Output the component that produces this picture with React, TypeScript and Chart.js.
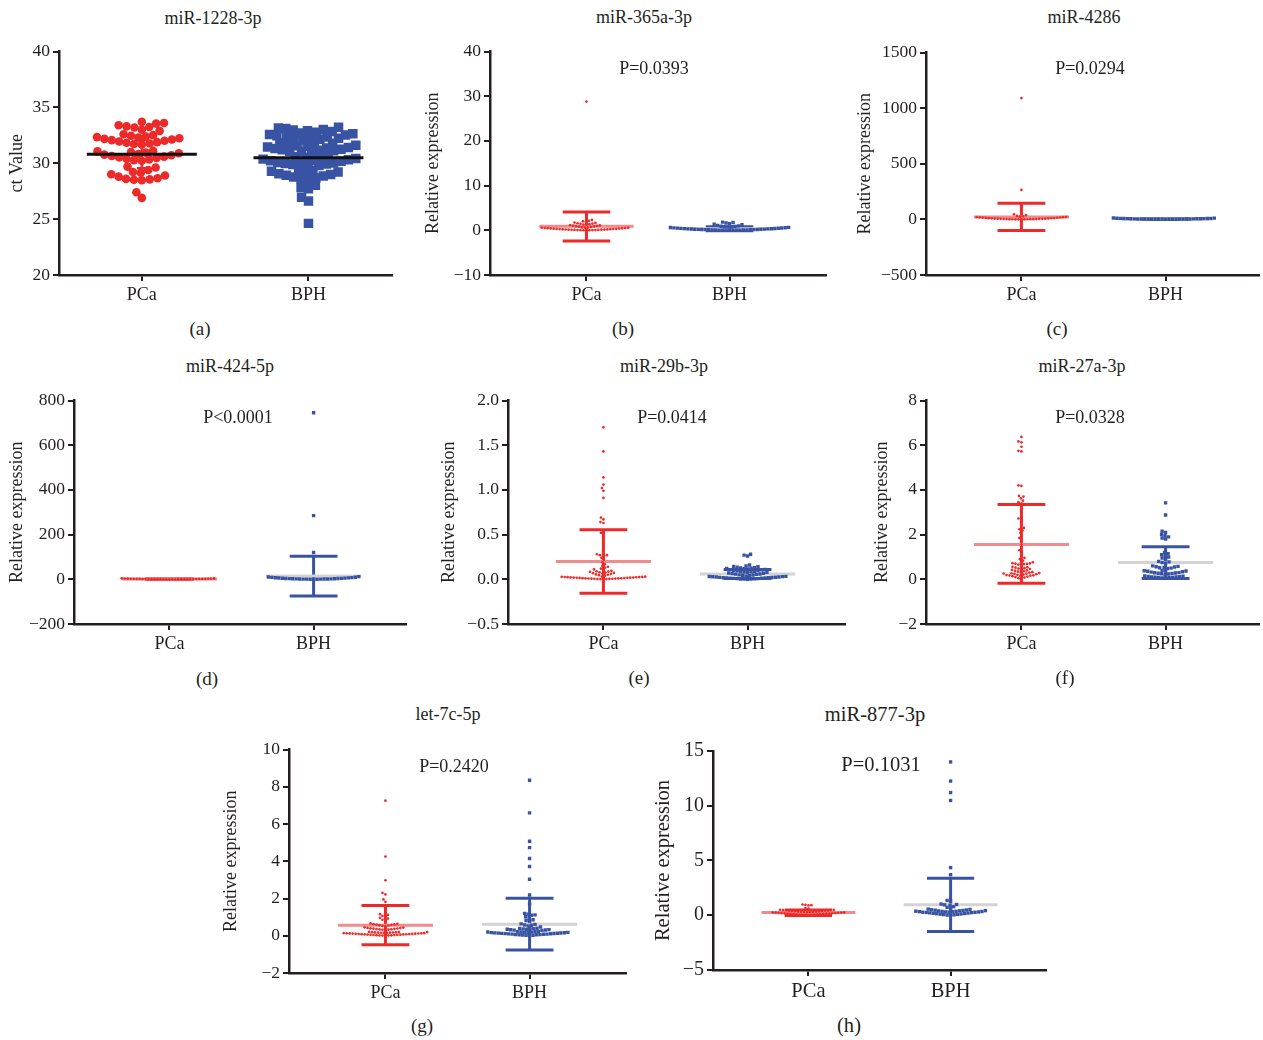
import React, { useEffect, useRef } from "react";
import { Chart, registerables } from "chart.js";

Chart.register(...registerables);

// ---------------- DATA ----------------
const groups = ["PCa", "BPH"];
const titles = ["miR-1228-3p", "miR-365a-3p", "miR-4286", "miR-424-5p", "miR-29b-3p", "miR-27a-3p", "let-7c-5p", "miR-877-3p"];
const yTitles = ["ct Value", "Relative expression", "Relative expression", "Relative expression", "Relative expression", "Relative expression", "Relative expression", "Relative expression"];
const letters = ["(a)", "(b)", "(c)", "(d)", "(e)", "(f)", "(g)", "(h)"];
const pValues = ["", "P=0.0393", "P=0.0294", "P<0.0001", "P=0.0414", "P=0.0328", "P=0.2420", "P=0.1031"];

const yMin = [20, -10, -500, -200, -0.5, -2, -2, -5];
const yMax = [40, 40, 1500, 800, 2.0, 8, 10, 15];
const yStep = [5, 10, 500, 200, 0.5, 2, 2, 5];
const yDecimals = [0, 0, 0, 0, 1, 0, 0, 0];

const a_PCa = [33.7, 33.6, 33.55, 33.4, 33.3, 33.25, 33.2, 33.0, 32.9, 32.6,
  32.52, 32.46, 32.4, 32.34, 32.29, 32.24, 32.18, 32.12, 32.07, 32.01, 31.95, 31.89, 31.83, 31.77, 31.72, 31.68,
  31.12, 31.06, 31.0, 30.95, 30.89, 30.83, 30.77, 30.71, 30.65, 30.59, 30.53, 30.47, 30.41, 30.35, 30.28, 30.22,
  29.7, 29.62, 29.4, 29.22, 29.15, 29.02, 28.9, 28.8, 28.66, 28.6, 28.56, 28.52, 28.48,
  27.4, 26.9];
const a_BPH = [33.22, 33.15, 33.1, 33.03, 32.97, 32.9, 32.84, 32.77, 32.7, 32.64, 32.58, 32.52, 32.46, 32.4, 32.34, 32.29, 32.24, 32.19, 32.14, 32.1,
  31.84, 31.79, 31.73, 31.68, 31.62, 31.57, 31.51, 31.46, 31.41, 31.36, 31.31, 31.26, 31.21, 31.16, 31.11, 31.07, 31.03, 30.99,
  30.64, 30.58, 30.53, 30.47, 30.42, 30.37, 30.32, 30.27, 30.22, 30.17, 30.12, 30.07, 30.02, 29.98, 29.93, 29.88, 29.84, 29.79,
  29.43, 29.36, 29.29, 29.22, 29.15, 29.07, 29.0, 28.93, 28.85, 28.77, 28.69, 28.61, 28.53,
  28.02, 27.82, 27.72, 26.95, 26.62, 24.62];

const b_PCa = [28.8, 2.32, 2.12, 2.0, 1.88, 1.72, 1.64, 1.58, 1.5, 1.46, 1.38, 1.3, 1.22, 1.16, 1.1, 1.04, 0.98, 0.92, 0.86, 0.8, 0.74,
  0.66, 0.63, 0.61, 0.57, 0.55, 0.52, 0.49, 0.47, 0.44, 0.41, 0.39, 0.36, 0.34, 0.31, 0.29, 0.27, 0.25, 0.22, 0.2, 0.18, 0.16, 0.14, 0.13, 0.11, 0.09, 0.08, 0.06, 0.05, 0.04, 0.03, 0.02, 0.02, 0.01];
const b_BPH = [1.82, 1.74, 1.62, 1.5, 1.35, 1.28, 1.1, 0.98, 0.9, 0.84, 0.78, 0.74, 0.7, 0.66, 0.62, 0.58, 0.55, 0.52, 0.49, 0.46, 0.43, 0.4, 0.38, 0.35,
  0.33, 0.31, 0.29, 0.27, 0.25, 0.23, 0.21, 0.19, 0.17, 0.15, 0.14, 0.12, 0.11, 0.09, 0.08, 0.07, 0.06, 0.05, 0.04, 0.03, 0.03, 0.02, 0.01, 0.01];

const c_PCa = [1090, 265, 60, 45, 38, 31, 28,
  24, 23, 21.5, 20, 18.5, 17, 16, 14.5, 13, 12, 11, 10, 9, 8.2, 7.5, 6.6, 6, 5.2, 4.6, 4, 3.4, 3, 2.6, 2.2, 1.8, 1.5, 1.2, 0.9, 0.7, 0.5, 0.4, 0.3];
const c_BPH = [12, 11, 10, 9.4, 8.8, 8.1, 7.5, 7, 6.4, 6, 5.5, 5.1, 4.7, 4.3, 3.9, 3.6, 3.3, 3, 2.7, 2.4, 2.1, 1.9, 1.6, 1.4, 1.2, 1, 0.8, 0.6, 0.5, 0.3];

const d_PCa = [4.2, 3.8, 3.5, 3.2, 3.0, 2.7, 2.5, 2.3, 2.1, 1.9, 1.8, 1.6, 1.5, 1.4, 1.2, 1.1, 1.0, 0.9, 0.8, 0.75, 0.7, 0.6, 0.55, 0.5, 0.45, 0.4, 0.35, 0.3, 0.25, 0.2, 0.15, 0.1];
const d_BPH = [745, 285, 120, 12, 10.5, 9.2, 8.4, 7.6, 6.9, 6.2, 5.6, 5.1, 4.6, 4.1, 3.7, 3.3, 3.0, 2.7, 2.4, 2.1, 1.8, 1.6, 1.4, 1.2, 1.0, 0.8, 0.6, 0.5, 0.35, 0.2];

const e_PCa = [1.70, 1.43, 1.14, 1.06, 1.02, 0.99, 0.91, 0.69, 0.67, 0.64, 0.63, 0.52, 0.50, 0.28, 0.27, 0.27, 0.26, 0.24, 0.22, 0.19, 0.17, 0.15, 0.14, 0.13, 0.12, 0.11, 0.10,
  0.095, 0.09, 0.086, 0.082, 0.079, 0.075, 0.071, 0.068, 0.064, 0.06, 0.055, 0.051, 0.046, 0.041,
  0.031, 0.029, 0.028, 0.027, 0.026, 0.025, 0.024, 0.023, 0.021, 0.02, 0.019, 0.018, 0.017, 0.016, 0.015, 0.014, 0.013, 0.012, 0.011, 0.01, 0.009, 0.008, 0.007, 0.006, 0.005, 0.004, 0.003, 0.002, 0.002, 0.001];
const e_BPH = [0.28, 0.27, 0.26, 0.16, 0.15, 0.145, 0.14, 0.135, 0.13, 0.128, 0.125, 0.12, 0.118, 0.115, 0.11, 0.108, 0.105, 0.1, 0.098, 0.095, 0.09, 0.088, 0.085, 0.08, 0.078, 0.075, 0.07, 0.068, 0.065, 0.06, 0.058, 0.055, 0.05, 0.048, 0.045, 0.04,
  0.035, 0.033, 0.031, 0.03, 0.028, 0.026, 0.025, 0.023, 0.022, 0.02, 0.018, 0.017, 0.015, 0.014, 0.012, 0.011, 0.01, 0.008, 0.007, 0.005, 0.004, 0.003, 0.002, 0.001];

const f_PCa = [6.37, 6.17, 6.13, 5.93, 5.75, 5.72, 4.2, 4.18, 3.73, 3.7, 3.62, 3.52, 3.45, 3.4, 2.72, 2.68, 2.3, 2.24, 2.18, 2.08, 1.95, 1.85, 1.74, 1.55, 1.3, 1.2, 1.06, 0.96, 0.9, 0.84,
  0.76, 0.74, 0.72, 0.71, 0.7, 0.69, 0.68, 0.66, 0.6, 0.56, 0.54, 0.52, 0.5, 0.48, 0.46, 0.44, 0.42, 0.4, 0.38, 0.36, 0.34, 0.32, 0.3, 0.29, 0.28, 0.27, 0.26, 0.25, 0.24, 0.23,
  0.21, 0.2, 0.19, 0.18, 0.17, 0.16, 0.15, 0.14, 0.12, 0.1, 0.08, 0.05, 0.02];
const f_BPH = [3.42, 2.88, 2.15, 2.1, 2.0, 1.95, 1.9, 1.85, 1.8, 1.2, 1.15, 1.1, 1.05, 1.0, 0.95, 0.9, 0.8, 0.78, 0.75, 0.72, 0.6, 0.58, 0.56, 0.55, 0.53, 0.52, 0.5, 0.48,
  0.4, 0.38, 0.37, 0.36, 0.35, 0.34, 0.32, 0.3, 0.29, 0.28, 0.27, 0.26, 0.25, 0.24, 0.2, 0.15, 0.14, 0.13, 0.12, 0.11, 0.1, 0.09, 0.08, 0.08, 0.07, 0.06, 0.05];

const g_PCa = [7.25, 4.25, 2.98, 2.3, 2.22, 1.95, 1.82, 1.22, 1.16, 1.12, 1.06, 1.02, 0.96, 0.92, 0.86, 0.82,
  0.66, 0.64, 0.62, 0.61, 0.6, 0.58, 0.57, 0.55, 0.53, 0.51,
  0.45, 0.44, 0.42, 0.41, 0.4, 0.39, 0.38, 0.37, 0.36, 0.35, 0.34, 0.33, 0.32, 0.3,
  0.21, 0.2, 0.195, 0.19, 0.185, 0.18, 0.175, 0.17, 0.165, 0.16, 0.155, 0.15, 0.145, 0.14, 0.135, 0.13, 0.125, 0.12, 0.115, 0.11, 0.105, 0.1, 0.095, 0.09, 0.085,
  0.08, 0.075, 0.07, 0.065, 0.06, 0.05, 0.045, 0.04, 0.035, 0.03, 0.025, 0.02, 0.015, 0.01, 0.005];
const g_BPH = [8.35, 6.6, 5.07, 4.73, 4.15, 3.72, 3.03, 2.19, 1.71, 1.2, 1.16, 1.12, 1.1, 1.02, 0.96, 0.86, 0.82, 0.78, 0.64, 0.61, 0.58, 0.56, 0.52, 0.47,
  0.4, 0.39, 0.38, 0.37, 0.36, 0.35, 0.34, 0.33, 0.32, 0.31, 0.3, 0.29,
  0.23, 0.22, 0.215, 0.21, 0.2, 0.195, 0.19, 0.18, 0.175, 0.17, 0.16, 0.155, 0.15, 0.14, 0.135, 0.13, 0.12, 0.115, 0.11, 0.1, 0.09, 0.085, 0.08, 0.07, 0.06, 0.055, 0.05, 0.04, 0.03, 0.02, 0.01];

const h_PCa = [0.98, 0.95, 0.92, 0.9, 0.66, 0.6, 0.5, 0.49, 0.47, 0.46, 0.45, 0.43, 0.42, 0.41, 0.39, 0.38, 0.37, 0.35, 0.34, 0.33, 0.32, 0.3,
  0.29, 0.28, 0.27, 0.26, 0.25, 0.24, 0.23, 0.22, 0.21, 0.2, 0.19, 0.18, 0.17, 0.16, 0.15, 0.14, 0.13, 0.12, 0.11, 0.1, 0.09, 0.08, 0.07, 0.06, 0.05, 0.04, 0.03, 0.02];
const h_BPH = [14.0, 12.25, 11.2, 10.48, 4.35, 3.7, 1.35, 1.28, 1.02, 0.98, 0.95, 0.92, 0.78, 0.72, 0.6, 0.56, 0.53, 0.5, 0.48, 0.46, 0.44, 0.42, 0.4, 0.39, 0.37, 0.36, 0.35,
  0.34, 0.33, 0.32, 0.31, 0.3, 0.29, 0.28, 0.27, 0.26, 0.24, 0.22, 0.2, 0.18, 0.16, 0.14, 0.12, 0.1, 0.08, 0.06, 0.04, 0.02, 0.01];

const pcaValues = [a_PCa, b_PCa, c_PCa, d_PCa, e_PCa, f_PCa, g_PCa, h_PCa];
const bphValues = [a_BPH, b_BPH, c_BPH, d_BPH, e_BPH, f_BPH, g_BPH, h_BPH];

const meanPCa = [30.8, 0.9, 22, 1.2, 0.2, 1.56, 0.57, 0.25];
const meanBPH = [30.5, 0.35, 3, 15, 0.06, 0.75, 0.62, 0.95];
const sdHiPCa = [32.05, 4.1, 145, 3, 0.555, 3.35, 1.62, 0.47];
const sdLoPCa = [29.55, -2.4, -100, -0.6, -0.155, -0.18, -0.48, -0.03];
const sdHiBPH = [31.3, 0.8, 8, 103, 0.11, 1.46, 2.02, 3.38];
const sdLoBPH = [29.7, -0.1, -2, -75, 0.01, 0.04, -0.76, -1.49];

// ---------------- LAYOUT / STYLE ----------------
const FONT = "'Liberation Serif', 'Times New Roman', serif";
const TEXT = "#231f20";
const RED = "#ed2a2a";
const BLUE = "#3953a4";
const SALMON = "#f28b8b";
const GRAY = "#d3d3d3";

const geom = [
  { L: 59, T: 50, R: 397, B: 275, xmin: 0.503, xmax: 2.503, tx: 213, ty: 18, lx: 200, ly: 328, px: 0, py: 0, d: 42, fs: 1 },
  { L: 490, T: 50, R: 828, B: 275, xmin: 0.326, xmax: 2.674, tx: 644, ty: 17, lx: 623, ly: 328, px: 654, py: 68, d: 57, fs: 1 },
  { L: 926, T: 51, R: 1261, B: 275, xmin: 0.338, xmax: 2.648, tx: 1084, ty: 17, lx: 1057, ly: 328, px: 1090, py: 68, d: 61, fs: 1 },
  { L: 74, T: 399, R: 408, B: 624, xmin: 0.338, xmax: 2.641, tx: 230, ty: 366, lx: 207, ly: 678, px: 238, py: 417, d: 57, fs: 1 },
  { L: 508, T: 399, R: 847, B: 624, xmin: 0.338, xmax: 2.676, tx: 664, ty: 366, lx: 639, ly: 677, px: 672, py: 417, d: 59, fs: 1 },
  { L: 926, T: 399, R: 1261, B: 624, xmin: 0.338, xmax: 2.648, tx: 1082, ty: 366, lx: 1065, ly: 677, px: 1090, py: 417, d: 44, fs: 1 },
  { L: 289, T: 748, R: 628, B: 973, xmin: 0.331, xmax: 2.669, tx: 448, ty: 714, lx: 422, ly: 1025, px: 454, py: 766, d: 58, fs: 1 },
  { L: 713, T: 748, R: 1048, B: 970, xmin: 0.329, xmax: 2.671, tx: 875, ty: 714, lx: 849, ly: 1025, px: 881, py: 764, d: 49, fs: 1.14 },
];

const PAD_L = 80, PAD_T = 12, PAD_B = 40, PAD_R = 2;

type Pt = { x: number; y: number };

function swarm(values: number[], center: number, pxX: number, pxY: number, diam: number): Pt[] {
  const sorted = [...values].sort((a, b) => a - b);
  const placed: Pt[] = [];
  const out: Pt[] = [];
  const d2 = diam * diam;
  for (const v of sorted) {
    const py = v * pxY;
    let off = 0;
    for (let k = 0; k < 6000; k++) {
      const cand = (k % 2 === 1 ? -1 : 1) * Math.ceil(k / 2) * 0.5;
      let ok = true;
      for (const p of placed) {
        const dx = p.x - cand;
        const dy = p.y - py;
        if (dx * dx + dy * dy < d2 - 1e-6) { ok = false; break; }
      }
      if (ok) { off = cand; break; }
    }
    placed.push({ x: off, y: py });
    out.push({ x: center + off / pxX, y: v });
  }
  return out;
}

function lineDs(data: Pt[], color: string, width: number, order: number) {
  return {
    data, showLine: true, borderColor: color, backgroundColor: color, borderWidth: width,
    pointRadius: 0, borderCapStyle: "butt", fill: false, order, tension: 0,
  } as any;
}

function buildConfig(i: number): any {
  const g = geom[i];
  const pxX = (g.R - g.L) / (g.xmax - g.xmin);
  const pxY = (g.B - g.T) / (yMax[i] - yMin[i]);
  const isA = i === 0;
  const vals = [pcaValues[i], bphValues[i]];
  const means = [meanPCa[i], meanBPH[i]];
  const his = [sdHiPCa[i], sdHiBPH[i]];
  const los = [sdLoPCa[i], sdLoBPH[i]];
  const pointColors = [RED, BLUE];
  const meanColors = isA ? ["#111111", "#111111"] : [SALMON, GRAY];
  const diams = isA ? [7.6, 7.5] : [3, 3.4];
  const radii = isA ? [4.3, 6.7] : [1.35, 2.4];
  const styles = ["circle", "rect"];
  const meanHalf = 0.33;
  const capHalf = isA ? 0.03 : 0.166;
  const errW = isA ? 2.5 : 3;

  const datasets: any[] = [];
  for (let k = 0; k < 2; k++) {
    const c = k + 1;
    datasets.push({
      data: swarm(vals[k], c, pxX, pxY, diams[k]),
      showLine: false,
      pointStyle: styles[k],
      pointRadius: radii[k],
      pointBorderWidth: 0,
      borderWidth: 0,
      pointBackgroundColor: pointColors[k],
      backgroundColor: pointColors[k],
      order: isA ? 2 : 1,
    });
    datasets.push(lineDs([{ x: c - meanHalf, y: means[k] }, { x: c + meanHalf, y: means[k] }], meanColors[k], 3, isA ? 1 : 2));
    datasets.push(lineDs([{ x: c, y: los[k] }, { x: c, y: his[k] }], pointColors[k], errW, 3));
    datasets.push(lineDs([{ x: c - capHalf, y: his[k] }, { x: c + capHalf, y: his[k] }], pointColors[k], errW, 3));
    datasets.push(lineDs([{ x: c - capHalf, y: los[k] }, { x: c + capHalf, y: los[k] }], pointColors[k], errW, 3));
  }

  const dec = yDecimals[i];
  const fmt = (v: number) => (v < -1e-9 ? "\u2212" : "") + Math.abs(v).toFixed(dec);
  const tSize = 18 * g.fs;
  const titleLine = tSize * 1.2;

  return {
    type: "scatter",
    data: { datasets },
    options: {
      responsive: false,
      animation: false,
      events: [],
      layout: { padding: { left: 0, top: PAD_T, right: PAD_R, bottom: 0 } },
      plugins: { legend: { display: false }, tooltip: { enabled: false }, title: { display: false } },
      scales: {
        x: {
          type: "linear",
          min: g.xmin,
          max: g.xmax,
          afterBuildTicks: (s: any) => { s.ticks = [{ value: 1 }, { value: 2 }]; },
          afterFit: (s: any) => { s.height = PAD_B; },
          ticks: {
            callback: (v: number) => groups[Math.round(v) - 1] ?? "",
            font: { size: 18 * g.fs, family: FONT },
            color: TEXT,
            padding: 3,
            autoSkip: false,
            maxRotation: 0,
          },
          grid: { drawOnChartArea: false, drawTicks: true, tickLength: 6, color: TEXT, lineWidth: 2 },
          border: { display: true, width: 2.5, color: TEXT },
        },
        y: {
          type: "linear",
          min: yMin[i],
          max: yMax[i],
          afterFit: (s: any) => { s.width = PAD_L; },
          ticks: {
            stepSize: yStep[i],
            callback: (v: number) => fmt(v),
            font: { size: 17.5 * g.fs, family: FONT },
            color: TEXT,
            padding: 3,
            autoSkip: false,
          },
          grid: { drawOnChartArea: false, drawTicks: true, tickLength: 6, color: TEXT, lineWidth: 2 },
          border: { display: true, width: 2.5, color: TEXT },
          title: {
            display: true,
            text: yTitles[i],
            font: { size: tSize, family: FONT },
            color: TEXT,
            padding: { top: PAD_L - g.d - titleLine / 2, bottom: 0 },
          },
        },
      },
    },
  };
}

function Panel({ i }: { i: number }) {
  const ref = useRef<HTMLCanvasElement>(null);
  const g = geom[i];
  const w = g.R - g.L + PAD_L + PAD_R;
  const h = g.B - g.T + PAD_T + PAD_B;
  useEffect(() => {
    if (!ref.current) return;
    const chart = new Chart(ref.current, buildConfig(i));
    return () => chart.destroy();
  }, [i]);
  return (
    <canvas
      ref={ref}
      width={w}
      height={h}
      style={{ position: "absolute", left: g.L - PAD_L, top: g.T - PAD_T, width: w, height: h }}
    />
  );
}

function Label({ x, y, text, size }: { x: number; y: number; text: string; size: number }) {
  return (
    <div
      style={{
        position: "absolute", left: x, top: y, transform: "translate(-50%, -50%)",
        fontFamily: FONT, fontSize: size, color: TEXT, whiteSpace: "nowrap", lineHeight: 1,
      }}
    >
      {text}
    </div>
  );
}

export default function App() {
  Chart.defaults.font.family = FONT;
  return (
    <div style={{ position: "absolute", left: 0, top: 0, width: 1263, height: 1040, background: "#fff", overflow: "hidden" }}>
      {geom.map((g, i) => (
        <React.Fragment key={i}>
          <Panel i={i} />
          <Label x={g.tx} y={g.ty} text={titles[i]} size={18 * g.fs} />
          <Label x={g.lx} y={g.ly} text={letters[i]} size={19 * (g.fs > 1 ? 1.08 : 1)} />
          {pValues[i] ? <Label x={g.px} y={g.py} text={pValues[i]} size={18 * g.fs} /> : null}
        </React.Fragment>
      ))}
    </div>
  );
}
